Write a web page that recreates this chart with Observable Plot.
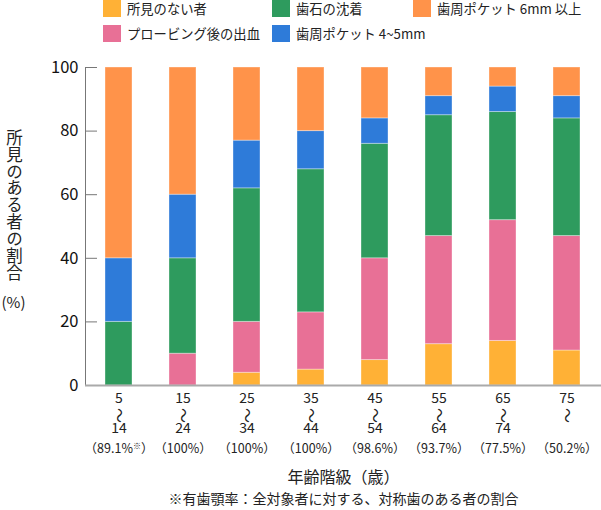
<!DOCTYPE html>
<html>
<head>
<meta charset="utf-8">
<script src="https://cdn.jsdelivr.net/npm/d3@7"></script>
<script src="https://cdn.jsdelivr.net/npm/@observablehq/plot@0.6"></script>
<style>
  body { margin: 0; background: #fff; font-family: "Noto Sans CJK JP", "Noto Sans", sans-serif; }
  #wrap { position: relative; width: 601px; height: 510px; }
  #legend {
    position: absolute; left: 103px; top: 0;
    display: grid; grid-auto-flow: column;
    grid-template-rows: 25px 18px;
    grid-template-columns: 169px 141px auto;
    font-size: 13.3px; color: #222;
  }
  .item { display: flex; align-items: flex-start; white-space: nowrap; }
  .sw { width: 18px; height: 17px; margin-right: 6px; flex: none; }
  .item span { line-height: 17px; }
  #chart { position: absolute; left: 0; top: 0; }
</style>
</head>
<body>
<div id="wrap">
  <div id="chart"></div>
  <div id="legend"></div>
</div>
<script>
// Age groups (start / end of each band) and the share of people with teeth
const ageStart = ["5", "15", "25", "35", "45", "55", "65", "75"];
const ageEnd = ["14", "24", "34", "44", "54", "64", "74", ""];
const coverage = ["89.1%※", "100%", "100%", "100%", "98.6%", "93.7%", "77.5%", "50.2%"];

// Findings, stacked bottom-up in this order
const series = ["所見のない者", "プロービング後の出血", "歯石の沈着", "歯周ポケット 4~5mm", "歯周ポケット 6mm 以上"];
const noFinding = [0, 0, 4, 5, 8, 13, 14, 11];
const bleeding = [0, 10, 16, 18, 32, 34, 38, 36];
const calculus = [20, 30, 42, 45, 36, 38, 34, 37];
const pocket45 = [20, 20, 15, 12, 8, 6, 8, 7];
const pocket6 = [60, 40, 23, 20, 16, 9, 6, 9];
const colors = ["#ffb136", "#e87096", "#2e9b5e", "#2e7bd9", "#ff934a"];

const yTicks = [0, 20, 40, 60, 80, 100];
const yTitle = "所見のある者の割合";
const yUnit = "(%)";
const xTitle = "年齢階級（歳）";
const note = "※有歯顎率：全対象者に対する、対称歯のある者の割合";

const values = [noFinding, bleeding, calculus, pocket45, pocket6];
const rows = [];
series.forEach((s, i) => ageStart.forEach((a, j) => rows.push({age: a, series: s, value: values[i][j]})));

const ink = "#222";
const font = "'Noto Sans CJK JP', 'Noto Sans', sans-serif";

const chart = Plot.plot({
  width: 601,
  height: 510,
  marginTop: 67,
  marginBottom: 125,
  marginLeft: 85,
  marginRight: 0,
  style: {fontFamily: font, color: ink, background: "transparent"},
  x: {domain: ageStart, paddingInner: 0.576, paddingOuter: 0.285, axis: null},
  y: {domain: [0, 100], axis: null},
  color: {domain: series, range: colors},
  marks: [
    Plot.frame({anchor: "left", stroke: "#777"}),
    Plot.axisY({ticks: yTicks, tickSize: -12, tickPadding: 19, fontSize: 16.5, stroke: "#777", fill: "#111", label: null}),
    Plot.barY(rows, {x: "age", y: "value", fill: "series", stroke: "#fff", strokeOpacity: 0.35, strokeWidth: 1}),
    Plot.ruleY([0], {stroke: "#aaa", strokeWidth: 2}),
    Plot.text(ageStart, {x: d => d, text: d => d, frameAnchor: "bottom", dy: 17, fontSize: 14, fill: ink}),
    Plot.text(ageStart, {x: d => d, text: () => "〜", rotate: 90, frameAnchor: "bottom", dx: -5, dy: 30, fontSize: 15, fill: ink}),
    Plot.text(ageEnd, {x: (d, i) => ageStart[i], text: d => d, frameAnchor: "bottom", dy: 47, fontSize: 14, fill: ink}),
    Plot.text(coverage, {x: (d, i) => ageStart[i], text: d => `（${d}）`, frameAnchor: "bottom", dy: 67, fontSize: 12.5, fill: ink}),
    Plot.text([xTitle], {frameAnchor: "bottom", dy: 97, fontSize: 16, fill: ink}),
    Plot.text([note], {frameAnchor: "bottom", dy: 118, fontSize: 14, fill: ink}),
    // vertical axis title, set in vertical writing mode below
    Plot.text([yTitle], {frameAnchor: "top-left", textAnchor: "start", dx: -71, dy: 50, fontSize: 16.5, fill: ink}),
    Plot.text([yUnit], {frameAnchor: "top-left", textAnchor: "middle", dx: -72, dy: 230, fontSize: 15, fill: ink})
  ]
});

d3.select(chart).selectAll("text").each(function () {
  const t = this.textContent;
  if (t === yTitle) {
    // stack the title's characters top to bottom
    d3.select(this)
      .attr("dy", null)
      .style("writing-mode", "vertical-rl")
      .style("text-orientation", "upright")
      .style("letter-spacing", "0.4px");
  } else if (t.startsWith("（") && t.includes("※")) {
    // shrink the reference mark "※" inside the coverage label
    const [a, b] = t.split("※");
    const el = d3.select(this).text(null);
    el.append("tspan").text(a);
    el.append("tspan").attr("font-size", 8).attr("dy", "-0.5em").text("※");
    el.append("tspan").attr("dy", "0.35em").text(b);
  }
});

document.getElementById("chart").appendChild(chart);

const legend = d3.select("#legend");
series.forEach((s, i) => {
  const item = legend.append("div").attr("class", "item");
  item.append("div").attr("class", "sw").style("background", colors[i]);
  item.append("span").text(s);
});
</script>
</body>
</html>
